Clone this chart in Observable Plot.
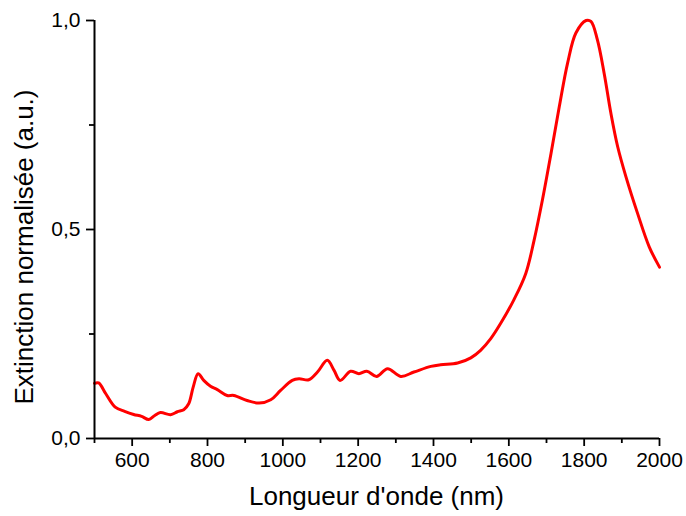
<!DOCTYPE html>
<html>
<head>
<meta charset="utf-8">
<script src="https://cdn.jsdelivr.net/npm/d3@7"></script>
<script src="https://cdn.jsdelivr.net/npm/@observablehq/plot@0.6"></script>
<style>
  html, body { margin: 0; padding: 0; background: #fff; }
  #chart { width: 686px; height: 516px; }
</style>
</head>
<body>
<div id="chart"></div>
<script>
const wavelengths = [500, 511, 530, 555, 580, 604, 625, 644, 660, 675, 702, 720, 737, 750, 762, 775, 790, 808, 826, 852, 870, 905, 937, 968, 994, 1025, 1043, 1069, 1092, 1118, 1136, 1152, 1180, 1202, 1223, 1249, 1278, 1313, 1348, 1393, 1419, 1464, 1499, 1525, 1552, 1578, 1614, 1645, 1667, 1689, 1712, 1734, 1756, 1778, 1805, 1818, 1835, 1853, 1871, 1889, 1911, 1942, 1973, 2000];
const extinction = [0.132, 0.133, 0.107, 0.075, 0.065, 0.0575, 0.053, 0.0455, 0.055, 0.062, 0.057, 0.064, 0.069, 0.083, 0.123, 0.155, 0.139, 0.125, 0.117, 0.103, 0.103, 0.091, 0.0847, 0.0927, 0.115, 0.139, 0.143, 0.1405, 0.159, 0.187, 0.163, 0.139, 0.161, 0.155, 0.161, 0.1486, 0.167, 0.1486, 0.159, 0.1725, 0.1765, 0.1805, 0.193, 0.211, 0.239, 0.275, 0.333, 0.395, 0.474, 0.570, 0.682, 0.794, 0.898, 0.970, 1.0, 0.998, 0.954, 0.874, 0.778, 0.698, 0.626, 0.538, 0.458, 0.410];
const xMajorTicks = [600, 800, 1000, 1200, 1400, 1600, 1800, 2000];
const xMinorTicks = [500, 700, 900, 1100, 1300, 1500, 1700, 1900];
const yMajorTicks = [0, 0.5, 1.0];
const yMinorTicks = [0.25, 0.75];
const xLabel = "Longueur d'onde (nm)";
const yLabel = "Extinction normalisée (a.u.)";

const data = wavelengths.map((w, i) => ({w, e: extinction[i]}));
const fmtY = d => d.toFixed(1).replace(".", ",");
const FONT = "'Liberation Sans', Arial, sans-serif";

const chart = Plot.plot({
  width: 686,
  height: 516,
  marginLeft: 94,
  marginRight: 27,
  marginTop: 20,
  marginBottom: 78,
  x: {domain: [500, 2000]},
  y: {domain: [0, 1]},
  style: {fontFamily: FONT, fontSize: "21px", color: "black", background: "white"},
  marks: [
    Plot.axisX({ticks: xMajorTicks, tickSize: 8, tickPadding: 6, tickFormat: d => String(d), label: null, strokeWidth: 1.8, fontSize: 21}),
    Plot.axisX({ticks: xMinorTicks, tickSize: 5, tickFormat: () => "", label: null, strokeWidth: 1.8}),
    Plot.axisY({ticks: yMajorTicks, tickSize: 8, tickPadding: 6, tickFormat: fmtY, label: null, strokeWidth: 1.8, fontSize: 21}),
    Plot.axisY({ticks: yMinorTicks, tickSize: 5, tickFormat: () => "", label: null, strokeWidth: 1.8}),
    Plot.line(data, {x: "w", y: "e", curve: "catmull-rom", stroke: "#ff0000", strokeWidth: 3}),
    Plot.ruleY([0], {stroke: "black", strokeWidth: 2}),
    Plot.ruleX([500], {stroke: "black", strokeWidth: 2})
  ]
});
document.getElementById("chart").appendChild(chart);

// Axis titles, placed relative to the plot's scale ranges
const xr = chart.scale("x").range;
const yr = chart.scale("y").range;
const svg = d3.select(chart);
svg.append("text")
  .attr("x", (xr[0] + xr[1]) / 2)
  .attr("y", yr[0] + 67)
  .attr("text-anchor", "middle")
  .attr("font-family", FONT)
  .attr("font-size", 26)
  .attr("fill", "black")
  .text(xLabel);
svg.append("text")
  .attr("transform", `translate(${xr[0] - 61},${(yr[0] + yr[1]) / 2 + 18}) rotate(-90)`)
  .attr("text-anchor", "middle")
  .attr("font-family", FONT)
  .attr("font-size", 26)
  .attr("fill", "black")
  .text(yLabel);
</script>
</body>
</html>
